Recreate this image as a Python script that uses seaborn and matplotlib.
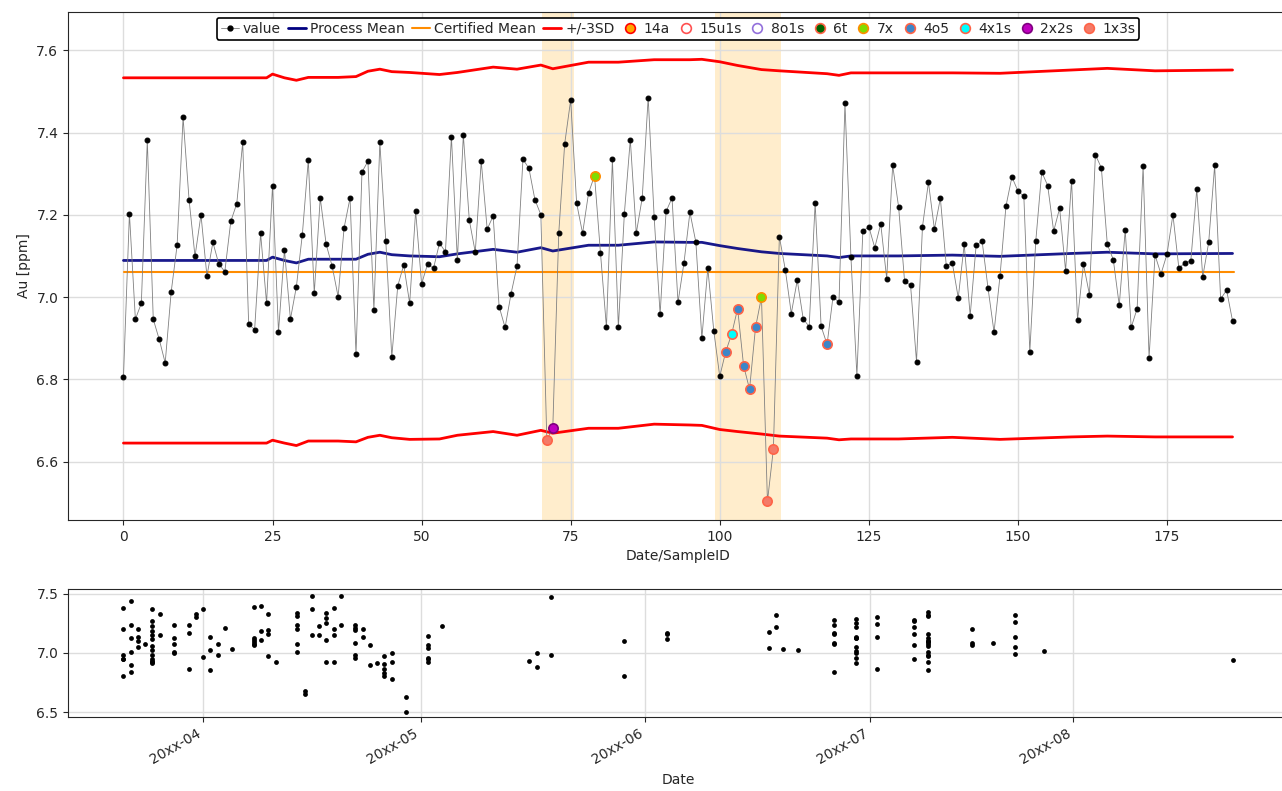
import numpy as np
import pandas as pd
import seaborn as sns
import matplotlib.pyplot as plt
from matplotlib.lines import Line2D

# Au control chart values, in sample order
values = [
    6.806, 7.203, 6.946, 6.985, 7.381, 6.946, 6.897, 6.840, 7.012, 7.126,
    7.437, 7.237, 7.099, 7.200, 7.051, 7.133, 7.080, 7.062, 7.184, 7.227,
    7.376, 6.934, 6.921, 7.155, 6.985, 7.271, 6.915, 7.115, 6.946, 7.025,
    7.152, 7.333, 7.009, 7.241, 7.128, 7.075, 7.001, 7.168, 7.241, 6.861,
    7.304, 7.330, 6.969, 7.376, 7.136, 6.854, 7.027, 7.078, 6.985, 7.209,
    7.032, 7.080, 7.070, 7.131, 7.110, 7.390, 7.090, 7.394, 7.187, 7.109,
    7.330, 7.165, 7.197, 6.977, 6.926, 7.008, 7.075, 7.335, 7.313, 7.237,
    7.200, 6.652, 6.681, 7.155, 7.373, 7.479, 7.228, 7.155, 7.253, 7.295,
    7.107, 6.926, 7.335, 6.926, 7.202, 7.383, 7.155, 7.241, 7.485, 7.195,
    6.958, 7.208, 7.241, 6.987, 7.083, 7.206, 7.133, 6.900, 7.070, 6.918,
    6.807, 6.867, 6.910, 6.972, 6.833, 6.776, 6.926, 7.000, 6.503, 6.631,
    7.147, 7.066, 6.960, 7.041, 6.947, 6.928, 7.229, 6.929, 6.885, 7.001,
    6.987, 7.471, 7.098, 6.809, 7.160, 7.171, 7.120, 7.178, 7.045, 7.320,
    7.219, 7.038, 7.029, 6.843, 7.171, 7.279, 7.165, 7.240, 7.075, 7.083,
    6.998, 7.128, 6.955, 7.126, 7.136, 7.021, 6.915, 7.051, 7.221, 7.292,
    7.258, 7.245, 6.867, 7.136, 7.304, 7.271, 7.160, 7.216, 7.064, 7.283,
    6.945, 7.080, 7.006, 7.346, 7.314, 7.128, 7.091, 6.980, 7.163, 6.926,
    6.972, 7.318, 6.852, 7.102, 7.056, 7.104, 7.200, 7.070, 7.083, 7.088,
    7.262, 7.049, 7.133, 7.320, 6.995, 7.017, 6.942,
]

# sampling dates (one entry per day, with number of samples that day)
group_dates = [
    '2020-10-21', '2020-10-22', '2020-10-23', '2020-10-24', '2020-10-25',
    '2020-10-26', '2020-10-28', '2020-10-30', '2020-10-31', '2020-11-01',
    '2020-11-02', '2020-11-03', '2020-11-04', '2020-11-05', '2020-11-08',
    '2020-11-09', '2020-11-10', '2020-11-11', '2020-11-14', '2020-11-15',
    '2020-11-16', '2020-11-17', '2020-11-18', '2020-11-19', '2020-11-20',
    '2020-11-22', '2020-11-23', '2020-11-24', '2020-11-25', '2020-11-26',
    '2020-11-27', '2020-11-29', '2020-12-02', '2020-12-04', '2020-12-16',
    '2020-12-17', '2020-12-19', '2020-12-29', '2021-01-04', '2021-01-18',
    '2021-01-19', '2021-01-20', '2021-01-22', '2021-01-27', '2021-01-30',
    '2021-02-02', '2021-02-07', '2021-02-09', '2021-02-15', '2021-02-18',
    '2021-02-21', '2021-02-25', '2021-03-23',
]
group_counts = [
    6, 6, 4, 1, 13, 2, 5, 3, 2, 2,
    3, 2, 1, 1, 6, 3, 4, 1, 6, 2,
    3, 2, 5, 4, 2, 6, 2, 2, 1, 5,
    3, 2, 6, 1, 1, 2, 2, 2, 3, 2,
    2, 1, 1, 7, 11, 4, 6, 15, 3, 1,
    5, 1, 1,
]
month_ticks = ['2020-11-01', '2020-12-01', '2021-01-01', '2021-02-01', '2021-03-01']
month_labels = ['20xx-04', '20xx-05', '20xx-06', '20xx-07', '20xx-08']

# process mean and +/-3SD limits read at sample positions
limit_idx = [0, 24, 25, 27, 29, 31, 36, 39, 41, 43, 45, 48, 53, 56, 62, 66, 70, 72,
             78, 83, 89, 95, 97, 100, 103, 107, 110, 118, 120, 122, 130, 139, 147,
             159, 165, 173, 186]
process_mean = [7.089, 7.089, 7.097, 7.089, 7.083, 7.092, 7.092, 7.092, 7.104, 7.109,
                7.103, 7.100, 7.098, 7.105, 7.116, 7.109, 7.120, 7.112, 7.126, 7.126,
                7.134, 7.133, 7.133, 7.125, 7.118, 7.110, 7.106, 7.100, 7.096, 7.100,
                7.100, 7.102, 7.099, 7.106, 7.109, 7.105, 7.106]
lower_3sd = [6.645, 6.645, 6.652, 6.645, 6.639, 6.650, 6.650, 6.648, 6.659, 6.664,
             6.658, 6.654, 6.655, 6.664, 6.673, 6.664, 6.676, 6.669, 6.681, 6.681,
             6.691, 6.689, 6.688, 6.678, 6.673, 6.667, 6.662, 6.657, 6.653, 6.655,
             6.655, 6.659, 6.654, 6.660, 6.662, 6.660, 6.660]
upper_3sd = [7.533, 7.533, 7.542, 7.533, 7.527, 7.534, 7.534, 7.536, 7.549, 7.554,
             7.548, 7.546, 7.541, 7.546, 7.559, 7.554, 7.564, 7.555, 7.571, 7.571,
             7.577, 7.577, 7.578, 7.572, 7.563, 7.553, 7.550, 7.543, 7.539, 7.545,
             7.545, 7.545, 7.544, 7.552, 7.556, 7.550, 7.552]
certified_mean = 7.06

# Westgard-type rule flags (sample indices)
rule_names = ['14a', '15u1s', '8o1s', '6t', '7x', '4o5', '4x1s', '2x2s', '1x3s']
rule_faces = ['orange', 'white', 'white', 'darkgreen', '#7fdc00',
              '#3d86c8', 'cyan', 'm', '#f47a68']
rule_edges = ['red', '#ff5050', 'mediumpurple', 'tomato', 'darkorange',
              'tomato', 'tomato', 'purple', 'tomato']
rule_flags = [[], [], [], [], [79, 107], [101, 103, 104, 105, 106, 118],
              [102], [72], [71, 108, 109]]

# highlighted windows (in sample index)
span_start = [70.2, 99.2]
span_end = [75.5, 110.2]

sns.set_style("ticks")
plt.rcParams['font.family'] = ['DejaVu Sans']

fig = plt.figure(figsize=(12.82, 7.91), dpi=100)
ax = fig.add_axes([68 / 1282, 1 - 520 / 791, 1220 / 1282, 508 / 791])
ax2 = fig.add_axes([68 / 1282, 1 - 717 / 791, 1220 / 1282, 128 / 791])

df = pd.DataFrame({'idx': np.arange(len(values)), 'value': values})
lim = pd.DataFrame({'idx': limit_idx, 'mean': process_mean,
                    'lo': lower_3sd, 'hi': upper_3sd})

for s, e in zip(span_start, span_end):
    ax.axvspan(s, e, color='orange', alpha=0.2, lw=0, zorder=0)

sns.lineplot(data=df, x='idx', y='value', ax=ax, color='gray', lw=0.6,
             marker='o', markersize=3.5, markerfacecolor='black',
             markeredgecolor='black', zorder=3)
sns.lineplot(data=lim, x='idx', y='mean', ax=ax, color='navy', lw=2, alpha=0.9)
ax.axhline(certified_mean, xmin=0.0457, xmax=0.9558, color='darkorange', lw=1.5)
sns.lineplot(data=lim, x='idx', y='hi', ax=ax, color='red', lw=2)
sns.lineplot(data=lim, x='idx', y='lo', ax=ax, color='red', lw=2)

for name, fc, ec, flags in zip(rule_names, rule_faces, rule_edges, rule_flags):
    if flags:
        sub = df.iloc[flags]
        sns.scatterplot(data=sub, x='idx', y='value', ax=ax, color=fc,
                        edgecolor=ec, linewidth=1.2, s=45, zorder=5)

ax.set_xlim(-9.3, 195.3)
ax.set_ylim(6.458, 7.693)
ax.set_xticks([0, 25, 50, 75, 100, 125, 150, 175])
ax.set_yticks([6.6, 6.8, 7.0, 7.2, 7.4, 7.6])
ax.grid(True, color='#dddddd', lw=1)
ax.set_xlabel('Date/SampleID')
ax.set_ylabel('Au [ppm]')

handles = [
    Line2D([], [], color='gray', lw=0.6, marker='o', markersize=3.5,
           markerfacecolor='black', markeredgecolor='black'),
    Line2D([], [], color='navy', lw=2),
    Line2D([], [], color='darkorange', lw=1.5),
    Line2D([], [], color='red', lw=2),
]
for fc, ec in zip(rule_faces, rule_edges):
    handles.append(Line2D([], [], ls='', marker='o', markersize=7,
                          markerfacecolor=fc, markeredgecolor=ec, markeredgewidth=1.2))
labels = ['value', 'Process Mean', 'Certified Mean', '+/-3SD'] + rule_names
leg = ax.legend(handles, labels, loc='upper center', ncol=len(labels),
                handlelength=1.3, handletextpad=0.3, columnspacing=0.5,
                borderpad=0.3, fontsize=10, framealpha=1, borderaxespad=0.4)
leg.get_frame().set_edgecolor('black')
leg.get_frame().set_linewidth(1.2)

# bottom panel: value against sampling date
dates = pd.to_datetime(np.repeat(group_dates, group_counts))
dfd = pd.DataFrame({'date': dates, 'value': values})
sns.scatterplot(data=dfd, x='date', y='value', ax=ax2, color='black',
                s=12, linewidth=0)
ax2.set_ylim(6.458, 7.542)
ax2.set_yticks([6.5, 7.0, 7.5])
ax2.set_xlim(pd.Timestamp('2020-10-21') - pd.Timedelta(days=7.65),
             pd.Timestamp('2021-03-23') + pd.Timedelta(days=7.65))
ax2.set_xticks(pd.to_datetime(month_ticks))
ax2.set_xticklabels(month_labels, rotation=30, ha='right')
ax2.grid(True, color='#dddddd', lw=1)
ax2.set_xlabel('Date')
ax2.set_ylabel('')

fig.savefig('out.png', dpi=100)
